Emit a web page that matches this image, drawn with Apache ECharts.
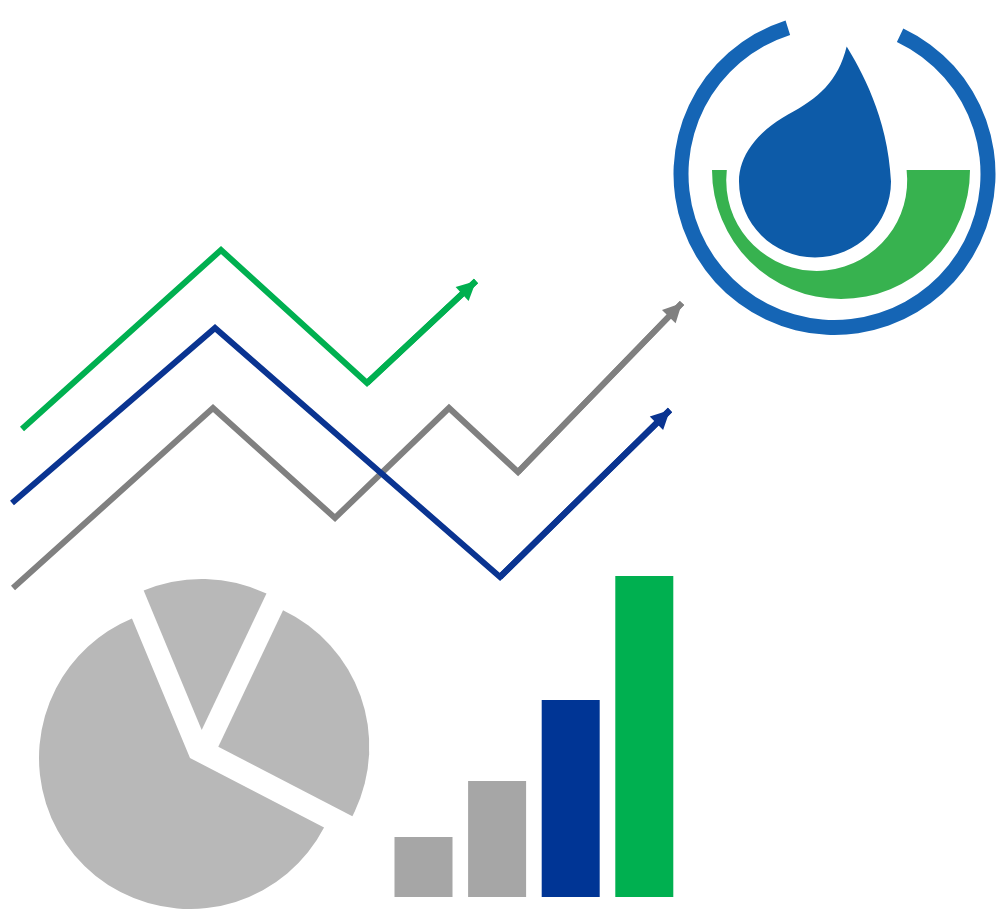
<!DOCTYPE html>
<html>
<head>
<meta charset="utf-8">
<script src="https://cdn.jsdelivr.net/npm/echarts@6/dist/echarts.min.js"></script>
<style>
html,body{margin:0;padding:0;background:#fff;}
#chart{width:1000px;height:909px;}
</style>
</head>
<body>
<div id="chart"></div>
<script>
// ---- line series (x, y in picture units) ----
const greenLine = [[22,429],[221,250],[367,383],[476,281]];
const blueLine  = [[12,503],[215,328],[500,577],[670,410]];
const grayLine  = [[13,588],[213,408],[335,518],[449,408],[518,472],[682,303]];

// ---- bar chart ----
const barCategories = ['A','B','C','D'];
const barValues = [60, 116, 197, 321];
const barColors = ['#a6a6a6','#a6a6a6','#003595','#00b050'];

// ---- exploded pie ----
const pieNames = ['Slice 1','Slice 2','Slice 3'];
const pieValues = [48, 92, 220];

// ---- logo ring ----
const ringValues = [317, 43];

// ---- logo shapes (positions of symbol centres) ----
const dropPoint = [[815, 152]];
const basinPoint = [[841, 234.5]];

const DROP_PATH = 'path://M108.7 0 C122 22 150 70 153 135 C153 177 119 211 77 211 C35 211 1 177 1 135 C1 110 18 86 50 68 C80 52 100 35 108.7 0 Z';
const BASIN_PATH = 'path://M0 0 A129 129 0 0 0 258 0 L194.6 0 A90.5 90.5 0 1 1 14.8 0 Z';

function lineSeries(data, color) {
  const n = data.length;
  return {
    type: 'line',
    xAxisIndex: 0, yAxisIndex: 0,
    data: data,
    symbol: 'none',
    silent: true,
    z: 3,
    lineStyle: { color: color, width: 6, cap: 'butt', join: 'miter' },
    markLine: {
      silent: true,
      symbol: ['none', 'triangle'],
      symbolSize: [19, 19],
      symbolOffset: [0, [0, 9.5]],
      label: { show: false },
      lineStyle: { color: color, width: 6, type: 'solid', cap: 'butt' },
      emphasis: { disabled: true },
      data: [[{ coord: data[n - 2] }, { coord: data[n - 1] }]]
    }
  };
}

function pieSlice(idx, center) {
  return {
    type: 'pie',
    center: center,
    radius: [0, 151],
    startAngle: 112.6,
    clockwise: true,
    silent: true,
    label: { show: false },
    labelLine: { show: false },
    emphasis: { disabled: true },
    itemStyle: { borderWidth: 0 },
    z: 2,
    data: pieValues.map((v, i) => ({
      name: pieNames[i],
      value: v,
      itemStyle: { color: i === idx ? '#b8b8b8' : 'rgba(0,0,0,0)', borderWidth: 0 }
    }))
  };
}

const chart = echarts.init(document.getElementById('chart'), null, { renderer: 'canvas' });
chart.setOption({
  animation: false,
  backgroundColor: '#ffffff',
  grid: [
    { left: 0, right: 0, top: 0, bottom: 0 },
    { left: 386.7, width: 294.4, bottom: 12, height: 400 }
  ],
  xAxis: [
    { type: 'value', min: 0, max: 1000, show: false, gridIndex: 0 },
    { type: 'category', data: barCategories, show: false, gridIndex: 1 }
  ],
  yAxis: [
    { type: 'value', min: 0, max: 909, inverse: true, show: false, gridIndex: 0 },
    { type: 'value', min: 0, max: 400, show: false, gridIndex: 1 }
  ],
  series: [
    // outer logo ring
    {
      type: 'pie',
      center: [834.5, 174],
      radius: [146, 161],
      startAngle: 64.7,
      clockwise: true,
      silent: true,
      label: { show: false },
      labelLine: { show: false },
      emphasis: { disabled: true },
      data: ringValues.map((v, i) => ({
        value: v,
        itemStyle: { color: i === 0 ? '#1565b5' : 'rgba(0,0,0,0)', borderWidth: 0 }
      }))
    },
    {
      type: 'scatter',
      xAxisIndex: 0, yAxisIndex: 0,
      data: basinPoint,
      symbol: BASIN_PATH,
      symbolSize: [258, 129],
      symbolKeepAspect: false,
      silent: true,
      z: 4,
      itemStyle: { color: '#37b24f', opacity: 1 }
    },
    {
      type: 'scatter',
      xAxisIndex: 0, yAxisIndex: 0,
      data: dropPoint,
      symbol: DROP_PATH,
      symbolSize: [152, 211],
      symbolKeepAspect: false,
      silent: true,
      z: 5,
      itemStyle: { color: '#0d5ba8', opacity: 1 }
    },
    pieSlice(0, [201.7, 730]),
    pieSlice(1, [218.3, 746.7]),
    pieSlice(2, [190, 758]),
    {
      type: 'bar',
      xAxisIndex: 1, yAxisIndex: 1,
      barWidth: 58,
      silent: true,
      data: barValues.map((v, i) => ({ value: v, itemStyle: { color: barColors[i] } }))
    },
    lineSeries(grayLine, '#808080'),
    lineSeries(blueLine, '#0a3491'),
    lineSeries(greenLine, '#00b050')
  ]
});
</script>
</body>
</html>
